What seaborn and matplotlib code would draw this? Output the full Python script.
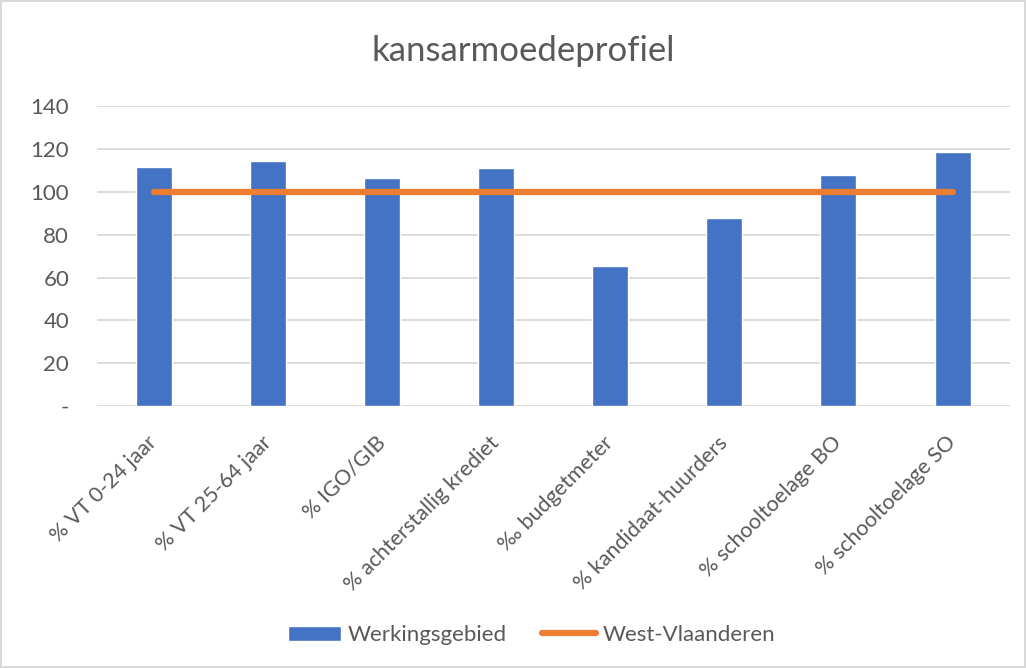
import numpy as np
import pandas as pd
import matplotlib.pyplot as plt
import seaborn as sns

categories = ["% VT 0-24 jaar", "% VT 25-64 jaar", "% IGO/GIB", "% achterstallig krediet",
              "‰ budgetmeter", "% kandidaat-huurders", "% schooltoelage BO", "% schooltoelage SO"]
werkingsgebied = [111.7, 114.6, 106.4, 111.0, 65.4, 88.0, 108.0, 118.7]
west_vlaanderen = [100, 100, 100, 100, 100, 100, 100, 100]
yticks = [0, 20, 40, 60, 80, 100, 120, 140]
yticklabels = ["-", "20", "40", "60", "80", "100", "120", "140"]

BLUE = "#4472C4"
ORANGE = "#ED7D31"
TEXT = "#595959"
GRID = "#D9D9D9"

sns.set_style("white")
plt.rcParams['font.family'] = ['Lato', 'DejaVu Sans']

df = pd.DataFrame({"cat": categories, "werk": werkingsgebied, "west": west_vlaanderen})

fig = plt.figure(figsize=(10.26, 6.68), dpi=100)
fig.patch.set_edgecolor(GRID)
fig.patch.set_linewidth(1.5)
ax = fig.add_axes([0.0945, 0.392, 0.8895, 0.449])

sns.barplot(data=df, x="cat", y="werk", color=BLUE, width=0.316, ax=ax,
            label="Werkingsgebied", zorder=2, saturation=1)
sns.lineplot(data=df, x="cat", y="west", color=ORANGE, linewidth=4.5, ax=ax,
             label="West-Vlaanderen", zorder=3, solid_capstyle="round")

ax.set_xlim(-0.5, len(categories) - 0.5)
ax.set_ylim(0, 140)
ax.set_yticks(yticks)
ax.set_yticklabels(yticklabels)
ax.yaxis.grid(True, color=GRID, linewidth=1.3, zorder=0)
ax.set_axisbelow(True)
for s in ax.spines.values():
    s.set_visible(False)
ax.tick_params(axis="both", length=0, labelcolor=TEXT)
ax.tick_params(axis="y", pad=20, labelsize=16)
ax.tick_params(axis="x", pad=24, labelsize=15.5)
plt.setp(ax.get_xticklabels(), rotation=45, ha="right", rotation_mode="anchor", va="center")
ax.set_xlabel("")
ax.set_ylabel("")

fig.suptitle("kansarmoedeprofiel", fontsize=25, color=TEXT, y=0.948, x=0.51)

ax.legend_.remove()
h, l = ax.get_legend_handles_labels()
order = [l.index("Werkingsgebied"), l.index("West-Vlaanderen")]
fig.legend([h[i] for i in order], [l[i] for i in order], loc="center",
           bbox_to_anchor=(0.518, 0.049), ncol=2, frameon=False,
           fontsize=16, labelcolor=TEXT, handlelength=2.4, handleheight=0.7,
           columnspacing=1.6, handletextpad=0.3)

fig.savefig("out.png", dpi=100)
